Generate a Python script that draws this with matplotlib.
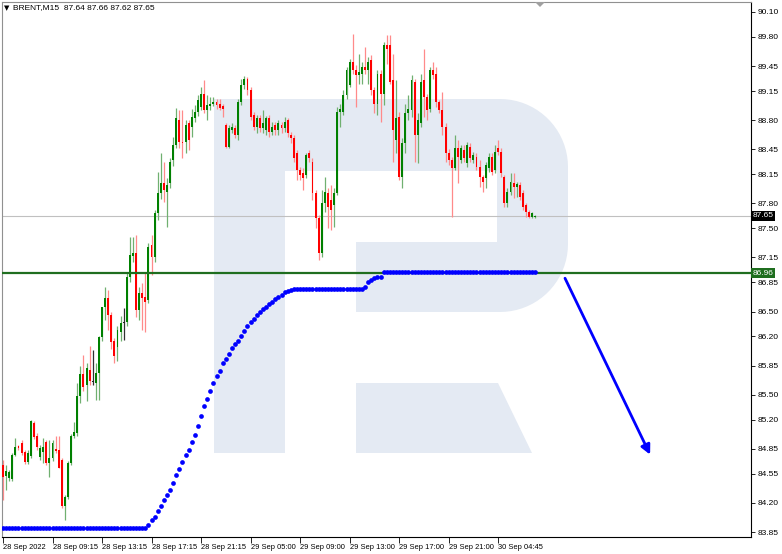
import numpy as np
import matplotlib
matplotlib.use("Agg")
import matplotlib.pyplot as plt
from matplotlib.patches import Polygon
from matplotlib.transforms import Affine2D, blended_transform_factory

plt.rcParams["font.family"] = ["Liberation Sans", "DejaVu Sans"]

# M15 candles, oldest first
opens = [
    84.65, 84.52, 84.50, 84.49, 84.78, 84.88, 84.92, 84.81, 84.69, 84.76,
    85.16, 85.00, 84.75, 84.81, 84.93, 84.68, 84.74, 84.85, 84.83, 84.72,
    84.16, 84.27, 84.68, 85.00, 85.04, 85.48, 85.75, 85.62, 85.80, 85.65,
    85.64, 85.76, 86.19, 86.55, 86.66, 86.46, 86.15, 86.07, 86.25, 86.36,
    86.37, 86.91, 87.17, 87.20, 86.52, 86.72, 86.67, 86.64, 87.30, 87.15,
    87.68, 87.92, 88.05, 87.94, 88.04, 88.32, 88.50, 88.80, 88.54, 88.54,
    88.76, 88.72, 88.83, 88.90, 88.96, 89.12, 88.92, 88.97, 89.00, 89.02,
    88.99, 88.97, 88.74, 88.48, 88.68, 88.70, 88.62, 89.02, 89.22, 89.30,
    89.16, 88.86, 88.72, 88.82, 88.70, 88.68, 88.82, 88.66, 88.74, 88.68,
    88.74, 88.71, 88.80, 88.62, 88.58, 88.40, 88.20, 88.16, 88.14, 88.40,
    88.30, 87.92, 87.62, 87.20, 87.80, 87.92, 87.84, 87.78, 87.92, 88.90,
    88.90, 89.10, 89.22, 89.50, 89.40, 89.34, 89.36, 89.44, 89.40, 89.52,
    89.16, 89.00, 89.36, 89.12, 89.70, 89.70, 89.28, 88.56, 88.84, 88.12,
    88.52, 88.88, 88.92, 89.26, 88.62, 88.76, 89.28, 89.08, 88.94, 89.40,
    89.36, 89.02, 88.92, 88.72, 88.40, 88.32, 88.22, 88.46, 88.32, 88.44,
    88.28, 88.48, 88.32, 88.36, 88.24, 88.12, 88.10, 88.22, 88.36, 88.20,
    88.46, 88.42, 88.12, 87.80, 87.94, 88.04, 88.00, 88.02, 87.92, 87.78,
    87.70, 87.64, 87.64,
]
highs = [
    84.71, 84.65, 84.60, 84.80, 84.98, 84.90, 84.96, 84.84, 84.84, 85.20,
    85.19, 85.04, 84.90, 84.98, 84.96, 84.96, 84.96, 85.00, 85.00, 84.74,
    84.30, 84.70, 85.03, 85.17, 85.64, 85.85, 85.98, 85.88, 86.09, 86.04,
    85.88, 86.20, 86.56, 86.79, 86.76, 86.50, 86.18, 86.33, 86.45, 86.54,
    86.97, 87.39, 87.40, 87.42, 86.80, 86.84, 86.96, 87.32, 87.42, 87.72,
    88.18, 88.40, 88.30, 88.10, 88.34, 88.60, 88.95, 88.92, 88.92, 88.80,
    88.80, 88.94, 88.98, 89.10, 89.20, 89.28, 89.10, 89.08, 89.08, 89.06,
    89.05, 89.00, 88.76, 88.74, 88.76, 88.74, 89.06, 89.30, 89.33, 89.32,
    89.20, 88.90, 88.86, 88.86, 88.92, 88.85, 88.86, 88.78, 88.78, 88.80,
    88.78, 88.84, 88.82, 88.66, 88.62, 88.44, 88.24, 88.22, 88.40, 88.44,
    88.35, 87.96, 87.66, 87.96, 88.12, 87.98, 88.02, 87.98, 88.96, 89.00,
    89.16, 89.44, 89.54, 89.84, 89.46, 89.60, 89.50, 89.68, 89.56, 89.58,
    89.20, 89.40, 89.40, 89.74, 89.82, 89.82, 89.60, 89.28, 88.90, 88.58,
    89.00, 89.10, 89.34, 89.30, 88.88, 89.36, 89.66, 89.12, 89.44, 89.50,
    89.44, 89.04, 89.14, 88.76, 88.45, 88.36, 88.62, 88.56, 88.50, 88.50,
    88.54, 88.52, 88.42, 88.40, 88.32, 88.14, 88.30, 88.40, 88.40, 88.50,
    88.56, 88.46, 88.14, 87.98, 88.16, 88.16, 88.06, 88.06, 87.96, 87.80,
    87.72, 87.70, 87.66,
]
lows = [
    84.23, 84.35, 84.46, 84.46, 84.76, 84.84, 84.78, 84.67, 84.67, 84.74,
    84.97, 84.84, 84.72, 84.68, 84.66, 84.51, 84.70, 84.80, 84.62, 84.14,
    83.99, 84.25, 84.65, 84.98, 85.00, 85.40, 85.55, 85.42, 85.62, 85.62,
    85.44, 85.44, 86.15, 86.40, 86.28, 86.05, 85.88, 85.90, 86.15, 86.16,
    86.33, 86.85, 87.10, 86.43, 86.40, 86.28, 86.25, 86.60, 86.94, 87.10,
    87.60, 87.85, 87.82, 87.52, 87.98, 88.25, 88.46, 88.46, 88.34, 88.40,
    88.44, 88.60, 88.78, 88.85, 88.92, 88.88, 88.80, 88.92, 88.97, 88.94,
    88.92, 88.84, 88.46, 88.46, 88.64, 88.58, 88.56, 88.98, 89.18, 89.10,
    88.80, 88.68, 88.64, 88.66, 88.64, 88.62, 88.60, 88.62, 88.62, 88.62,
    88.64, 88.66, 88.60, 88.52, 88.30, 88.08, 88.08, 87.96, 88.10, 88.30,
    87.84, 87.50, 87.12, 87.16, 87.70, 87.50, 87.48, 87.52, 87.90, 88.72,
    88.86, 89.06, 89.20, 89.36, 88.96, 89.24, 89.24, 89.36, 89.24, 89.10,
    88.88, 88.86, 88.78, 88.98, 89.48, 89.24, 88.30, 88.40, 88.08, 87.98,
    88.40, 88.80, 88.84, 88.30, 88.28, 88.72, 88.84, 88.80, 88.90, 89.30,
    88.96, 88.88, 88.62, 88.30, 88.26, 87.64, 88.20, 88.05, 88.28, 88.30,
    88.24, 88.30, 88.28, 88.20, 88.00, 87.94, 87.99, 88.18, 88.14, 88.16,
    88.38, 88.12, 87.76, 87.76, 87.90, 87.86, 87.88, 87.84, 87.72, 87.64,
    87.62, 87.62, 87.62,
]
closes = [
    84.51, 84.58, 84.57, 84.78, 84.87, 84.86, 84.80, 84.69, 84.80, 85.19,
    84.99, 84.87, 84.86, 84.87, 84.68, 84.74, 84.92, 84.82, 84.62, 84.16,
    84.27, 84.68, 85.00, 85.05, 85.48, 85.75, 85.59, 85.82, 85.66, 85.65,
    85.76, 86.19, 86.55, 86.66, 86.46, 86.13, 85.97, 86.28, 86.36, 86.36,
    86.91, 87.18, 87.20, 86.52, 86.72, 86.66, 86.62, 87.27, 87.15, 87.68,
    87.92, 88.05, 87.96, 88.02, 88.30, 88.50, 88.82, 88.54, 88.52, 88.74,
    88.56, 88.84, 88.90, 89.04, 89.12, 88.92, 88.98, 89.00, 89.02, 88.98,
    88.95, 88.94, 88.48, 88.71, 88.72, 88.62, 89.02, 89.22, 89.30, 89.16,
    88.84, 88.72, 88.82, 88.70, 88.76, 88.82, 88.66, 88.72, 88.68, 88.76,
    88.70, 88.78, 88.64, 88.58, 88.34, 88.20, 88.14, 88.10, 88.38, 88.34,
    87.92, 87.62, 87.20, 87.80, 87.94, 87.76, 87.72, 87.92, 88.90, 88.94,
    89.10, 89.40, 89.50, 89.40, 89.34, 89.38, 89.44, 89.40, 89.50, 89.16,
    89.00, 89.36, 89.12, 89.70, 89.66, 89.26, 88.68, 88.82, 88.12, 88.52,
    88.88, 88.94, 89.28, 88.62, 88.80, 89.26, 89.08, 88.92, 89.40, 89.34,
    89.02, 88.92, 88.72, 88.40, 88.32, 88.22, 88.46, 88.36, 88.46, 88.34,
    88.50, 88.34, 88.38, 88.24, 88.12, 88.06, 88.26, 88.36, 88.18, 88.42,
    88.42, 88.16, 87.80, 87.94, 88.06, 88.00, 88.03, 87.88, 87.76, 87.70,
    87.64, 87.68, 87.65,
]

# blue dotted indicator, one value per candle
indicator = (
    [83.90] * 47
    + [83.93, 83.99, 84.03, 84.10, 84.16, 84.23, 84.29, 84.36, 84.44, 84.53,
       84.61, 84.69, 84.77, 84.84, 84.93, 85.02, 85.12, 85.24, 85.36, 85.45,
       85.55, 85.64, 85.72, 85.79, 85.88, 85.93, 85.99, 86.06, 86.11, 86.15,
       86.21, 86.27, 86.33, 86.37, 86.41, 86.46, 86.49, 86.53, 86.56, 86.59,
       86.62, 86.65, 86.68, 86.70, 86.73, 86.75, 86.76, 86.77]
    + [86.77] * 22
    + [86.80, 86.85, 86.88, 86.90, 86.91, 86.92]
    + [86.97] * 50
)

# axis labels
time_ticks = [0, 16, 32, 48, 64, 80, 96, 112, 128, 144, 160]
time_labels = ["28 Sep 2022", "28 Sep 09:15", "28 Sep 13:15", "28 Sep 17:15",
               "28 Sep 21:15", "29 Sep 05:00", "29 Sep 09:00", "29 Sep 13:00",
               "29 Sep 17:00", "29 Sep 21:00", "30 Sep 04:45"]
price_ticks = [90.10, 89.80, 89.45, 89.15, 88.80, 88.45, 88.15, 87.80, 87.50,
               87.15, 86.85, 86.50, 86.20, 85.85, 85.50, 85.20, 84.85, 84.55,
               84.20, 83.85]

last_price = 87.65
level = 86.96
arrow_from = (181.6, 86.90)
arrow_to = (209.1, 84.78)

W, H = 782, 554
fig = plt.figure(figsize=(W / 100, H / 100), dpi=100)
ax = fig.add_axes([2 / W, 1 - 537 / H, 749 / W, 535 / H])
px = Affine2D().scale(1 / W, -1 / H).translate(0, 1) + fig.transFigure

# watermark "R"
wm = "#e4eaf3"
t = np.linspace(0, np.pi / 2, 20)
top_arc = [(500 + 68 * np.sin(a), 167 - 68 * np.cos(a)) for a in t]
bot_arc = [(500 + 68 * np.cos(a), 244 + 68 * np.sin(a)) for a in t]
r_body = [(214, 453), (214, 99)] + top_arc + bot_arc + [
    (356, 312), (356, 242), (497, 242), (497, 171), (285, 171), (285, 453)]
ax.add_patch(Polygon(r_body, closed=True, transform=px, fc=wm, ec="none", zorder=0))
ax.add_patch(Polygon([(356, 383), (498, 383), (532, 453), (356, 453)], closed=True,
                     transform=px, fc=wm, ec="none", zorder=0))

o = np.array(opens)
h = np.array(highs)
l = np.array(lows)
c = np.array(closes)
idx = np.arange(len(o))

body_col = np.where(c > o, "#008000", np.where(c < o, "#ff0000", "#202020"))
wick_col = np.where(c > o, "#70b070", np.where(c < o, "#ff8a8a", "#303030"))
ax.vlines(idx, l, h, colors=wick_col, linewidth=0.9, zorder=2)
bottoms = np.minimum(o, c)
heights = np.maximum(np.abs(c - o), 0.012)
ax.bar(idx, heights, bottom=bottoms, width=0.62, color=body_col, linewidth=0, zorder=3)

# horizontal levels
ax.axhline(last_price, color="#c0c0c0", lw=0.8, zorder=1)
ax.axhline(level, color="#1f6e1f", lw=1.6, zorder=3.5)

ax.plot(idx, indicator, "o", color="#0000ff", markersize=3.4, markeredgewidth=0, zorder=4)

ax.annotate("", xy=arrow_to, xytext=arrow_from,
            arrowprops=dict(arrowstyle="-|>", color="#0000ff", lw=2,
                            mutation_scale=14, shrinkA=0, shrinkB=0), zorder=5)

ax.set_xlim(-0.32, 241.7)
ax.set_ylim(83.79, 90.22)

ax.yaxis.tick_right()
ax.set_yticks(price_ticks)
ax.set_yticklabels(["%.2f" % v for v in price_ticks])
ax.set_xticks(time_ticks)
ax.set_xticklabels(time_labels, ha="left")
ax.tick_params(axis="y", direction="out", length=3, width=0.6, pad=2, labelsize=6)
ax.tick_params(axis="x", direction="out", length=4, width=0.6, pad=1, labelsize=5.4)
for lab in ax.get_xticklabels():
    lab.set_horizontalalignment("left")

for side in ("left", "top"):
    ax.spines[side].set_color("#909090")
    ax.spines[side].set_linewidth(0.8)
for side in ("right", "bottom"):
    ax.spines[side].set_color("#000000")
    ax.spines[side].set_linewidth(0.8)

# price tags on the axis
tag = blended_transform_factory(ax.transAxes, ax.transData)
ax.text(1.002, last_price, "%.2f" % last_price, transform=tag, color="white",
        fontsize=6, va="center", ha="left", clip_on=False,
        bbox=dict(boxstyle="square,pad=0.2", fc="black", ec="none"))
ax.text(1.002, level, "%.2f" % level, transform=tag, color="white",
        fontsize=6, va="center", ha="left", clip_on=False,
        bbox=dict(boxstyle="square,pad=0.2", fc="#1f6e1f", ec="none"))

# header
fig.text(4 / W, 1 - 8 / H, "▼", fontsize=5, va="center", family=["DejaVu Sans"])
fig.text(13 / W, 1 - 8 / H, "BRENT,M15  87.64 87.66 87.62 87.65", fontsize=6, va="center")
ax.add_patch(Polygon([(535, 2), (545, 2), (540, 7)], closed=True, transform=px,
                     fc="#a0a0a0", ec="none", clip_on=False, zorder=6))

fig.savefig("out.png", dpi=100)
